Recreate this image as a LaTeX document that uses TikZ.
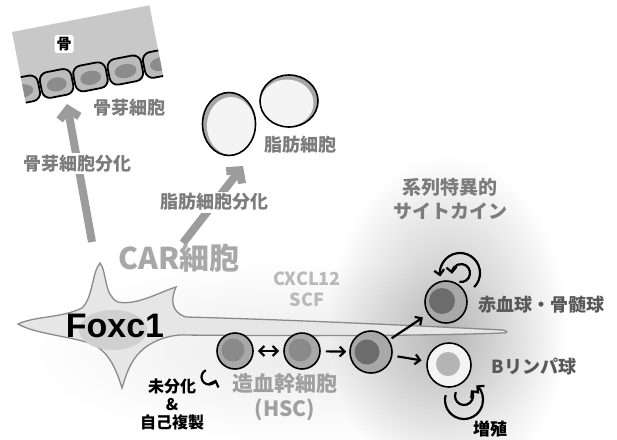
\documentclass[tikz,border=0pt]{standalone}
\usepackage{fontspec}
\setmainfont{Noto Sans CJK JP}
\newfontfamily\foxfont{Liberation Sans}
\usetikzlibrary{arrows.meta}

\definecolor{bonefill}{HTML}{C8C8C8}
\definecolor{bonecell}{HTML}{BBBBBB}
\definecolor{bonenuc}{HTML}{8C8C8C}
\definecolor{fatrim}{HTML}{A6A6A6}
\definecolor{fatcore}{HTML}{F4F4F4}
\definecolor{carfill}{HTML}{E6E6E6}
\definecolor{carline}{HTML}{8A8A8A}
\definecolor{carnuc}{HTML}{D0D0D0}
\definecolor{bigarrow}{HTML}{9C9C9C}
\definecolor{txtmid}{HTML}{7C7C7C}
\definecolor{txtcar}{HTML}{A8A8A8}
\definecolor{txthsc}{HTML}{A0A0A0}
\definecolor{txtfactor}{HTML}{B9B9B9}
\definecolor{txtdark}{HTML}{585858}
\definecolor{ringgray}{HTML}{A8A8A8}
\definecolor{nucgray}{HTML}{8A8A8A}
\definecolor{nucdark}{HTML}{6C6C6C}
\definecolor{nuclight}{HTML}{B4B4B4}

\begin{document}
\begin{tikzpicture}[x=1pt,y=-1pt,
  jp/.style={inner sep=0pt, font=\bfseries\fontsize{#1}{#1}\selectfont},
  jp/.default=18,
  bigarr/.style={draw=bigarrow, line width=8pt, -{Straight Barb[length=9pt,width=20pt]}},
  gap/.style={fill=white, inner sep=2pt},
  cellring/.style={circle, draw=black, line width=1.6pt, inner sep=0pt},
  blk/.style={line width=2.2pt, -{Straight Barb[length=5pt,width=10pt]}},
  curl/.style={line width=2.2pt, -{Straight Barb[length=5pt,width=10pt]}},
]
\useasboundingbox (0,0) rectangle (617,439);
\fill[white] (0,0) rectangle (617,439);

% soft haze behind the marrow niche, built from stacked translucent ellipses
\foreach \k in {1,...,20}
  \fill[black, opacity=0.005] (300,352) ellipse [x radius={270*\k/20}, y radius={90*\k/20}];
\foreach \k in {1,...,32}
  \fill[black, opacity=0.008] (448,325) ellipse [x radius={118*\k/32}, y radius={168*\k/32}];

% bone with a row of osteoblasts
\begin{scope}[shift={(12,32)}, rotate=11]
  \fill[bonefill] (0,0) rectangle (140,60);
  \begin{scope}
    \clip (0,-5) rectangle (140,80);
    \foreach \a/\b in {-24/17, 17/51, 51/86, 86/122, 122/160} {
      \filldraw[fill=bonecell, draw=black, line width=1.8pt, rounded corners=8pt]
        (\a+1,46) rectangle (\b-1,72);
      \fill[bonenuc] ({(\a+\b)/2},60) ellipse [x radius={(\b-\a)/2-7}, y radius=7];
    }
  \end{scope}
\end{scope}
\node[jp=15, fill=white, rounded corners=2pt, inner sep=2pt] (bonelbl) at (64,44) {骨};
\node[jp, text=txtmid] (osteo) at (129,108) {骨芽細胞};

% adipocytes
\fill[fatrim] (229,124) ellipse [x radius=26.5, y radius=31.5];
\fill[fatcore] (231,126) ellipse [x radius=24, y radius=29];
\draw[line width=1.6pt] (229,124) ellipse [x radius=26.5, y radius=31.5];
\fill[fatrim] (289,101) ellipse [x radius=29, y radius=26];
\fill[fatcore] (287,103) ellipse [x radius=26.5, y radius=23.5];
\draw[line width=1.6pt] (289,101) ellipse [x radius=29, y radius=26];
\node[jp, text=txtmid] (adipo) at (300,145) {脂肪細胞};

% differentiation arrows
\coordinate (carA) at (92,242);
\coordinate (boneB) at (67,104);
\coordinate (carB) at (183,243);
\coordinate (fatB) at (243,166);
\draw[bigarr] (carA) -- node[pos=0.57, jp, gap, text=txtmid] (lblOst) {骨芽細胞分化} (boneB);
\draw[bigarr] (carB) -- node[pos=0.53, jp, gap, text=txtmid] (lblFat) {脂肪細胞分化} (fatB);

% CAR cell with its long process
\filldraw[fill=carfill, draw=carline, line width=1.3pt]
  (18,324)
  .. controls (35,316) and (62,318) .. (82,308)
  .. controls (93,298) and (92,272) .. (100,263)
  .. controls (107,272) and (104,296) .. (118,302)
  .. controls (136,306) and (160,292) .. (176,287)
  .. controls (171,298) and (170,312) .. (186,317)
  .. controls (300,320) and (420,326) .. (503,330)
  .. controls (508,331) and (508,333) .. (503,333)
  .. controls (420,336) and (300,336) .. (180,335)
  .. controls (165,336) and (150,342) .. (140,352)
  .. controls (130,362) and (126,375) .. (122,388)
  .. controls (117,372) and (110,352) .. (92,344)
  .. controls (70,336) and (35,334) .. (18,324) -- cycle;
\fill[carnuc] (113,330) ellipse [x radius=34, y radius=20];
\node[inner sep=0pt, font=\foxfont\bfseries\fontsize{34}{34}\selectfont] (foxc) at (115,326) {Foxc1};
\node[jp=30, text=txtcar] (car) at (179,258) {CAR細胞};
\node[jp, text=txtfactor, align=center] (factors) at (307,289) {CXCL12\\[3pt]SCF};

% hematopoietic cells
\node[cellring, fill=ringgray, minimum size=36pt] (h1) at (235,351) {};
\fill[nucgray] (233,350) circle (11.5);
\node[cellring, fill=ringgray, minimum size=36pt] (h2) at (302,351) {};
\fill[nucgray] (300,350) circle (11.5);
\node[cellring, fill=ringgray, minimum size=42pt] (h3) at (371,352) {};
\fill[nucdark] (367,352) circle (12.5);
\node[cellring, fill=ringgray, minimum size=42pt] (ery) at (446,302) {};
\fill[nucdark] (442,301) circle (13);
\node[cellring, fill=fatcore, minimum size=44pt] (bcell) at (449,365) {};
\fill[nuclight] (448,364) circle (12);

% lineage arrows
\draw[line width=2.2pt, {Straight Barb[length=5pt,width=10pt]}-{Straight Barb[length=5pt,width=10pt]},
  shorten <=4pt, shorten >=4pt] (h1) -- (h2);
\draw[blk, shorten <=5pt, shorten >=3pt] (h2) -- (h3);
\draw[blk, shorten <=3pt, shorten >=6pt] (h3) -- (ery);
\draw[blk, shorten <=5pt, shorten >=5pt] (h3) -- (bcell);

% self-renewal and proliferation curls
\draw[curl] (209,377) ++(-115:7.5) arc[start angle=-115, end angle=-340, radius=7.5];
\draw[curl] (460,273) ++(45:20) arc[start angle=45, end angle=-190, radius=20];
\draw[curl] (461,273) ++(100:9) arc[start angle=100, end angle=-185, radius=9];
\draw[curl] (464,400) ++(195:19) arc[start angle=195, end angle=-50, radius=19];
\draw[curl] (464,396) ++(205:9) arc[start angle=205, end angle=-40, radius=9];

% labels
\node[jp=21, text=txthsc, align=center] (hsc) at (285,397) {造血幹細胞\\[4pt](HSC)};
\node[jp=16, align=center] (renew) at (172,404) {未分化\\[2pt]\&\\[2pt]自己複製};
\node[jp=19, text=txtmid, align=center] (cyto) at (450,199) {系列特異的\\[5pt]サイトカイン};
\node[jp, text=txtdark] (erylbl) at (541,305) {赤血球・骨髄球};
\node[jp, text=txtdark] (blbl) at (534,367) {Bリンパ球};
\node[jp=17] (prolif) at (490,429) {増殖};
\end{tikzpicture}
\end{document}
